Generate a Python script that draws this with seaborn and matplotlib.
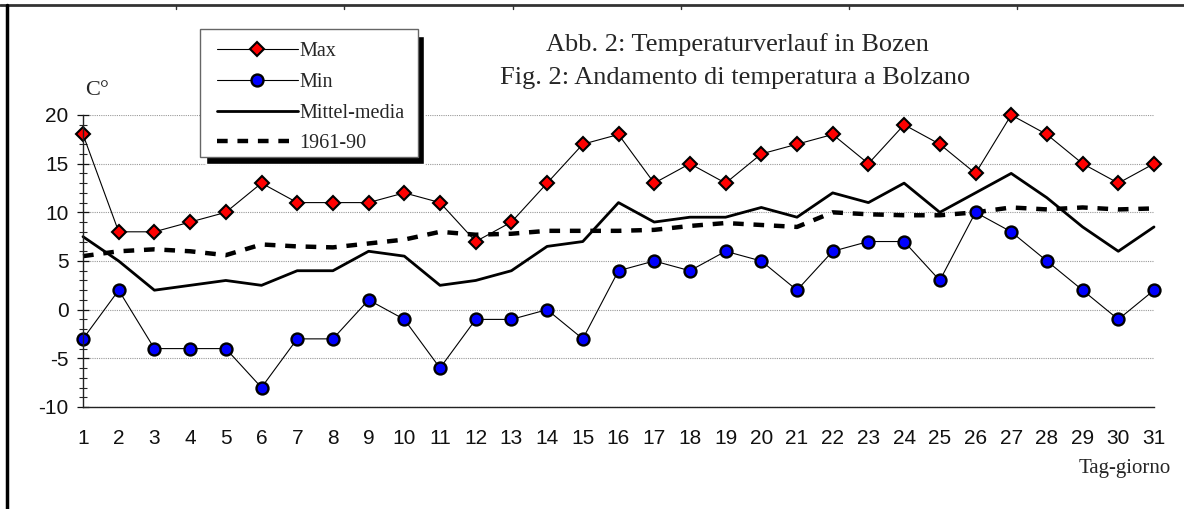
import pandas as pd
import seaborn as sns
import matplotlib.pyplot as plt
from matplotlib.lines import Line2D
from matplotlib.patches import Rectangle
from matplotlib.ticker import MultipleLocator

days = list(range(1, 32))
t_max = [18, 8, 8, 9, 10, 13, 11, 11, 11, 12, 11, 7, 9, 13, 17, 18, 13, 15, 13, 16,
         17, 18, 15, 19, 17, 14, 20, 18, 15, 13, 15]
t_min = [-3, 2, -4, -4, -4, -8, -3, -3, 1, -1, -6, -1, -1, 0, -3, 4, 5, 4, 6, 5,
         2, 6, 7, 7, 3, 10, 8, 5, 2, -1, 2]
t_mean = [7.5, 5, 2, 2.5, 3, 2.5, 4, 4, 6, 5.5, 2.5, 3, 4, 6.5, 7, 11, 9, 9.5, 9.5, 10.5,
          9.5, 12, 11, 13, 10, 12, 14, 11.5, 8.5, 6, 8.5]
t_norm = [5.5, 6, 6.2, 6, 5.6, 6.7, 6.5, 6.4, 6.8, 7.2, 8, 7.7, 7.8, 8.1, 8.1, 8.1, 8.2, 8.6,
          8.9, 8.7, 8.5, 10, 9.8, 9.7, 9.7, 10, 10.5, 10.3, 10.5, 10.3, 10.4]
labels = ["Max", "Min", "Mittel-media", "1961-90"]

df = pd.DataFrame({"day": days, "max": t_max, "min": t_min, "mean": t_mean, "norm": t_norm})

sns.set_style("white")
plt.rcParams["font.family"] = ["Liberation Sans", "DejaVu Sans"]
plt.rcParams["axes.unicode_minus"] = False
serif = ["Liberation Serif", "DejaVu Serif"]

W, H = 1184, 509
fig = plt.figure(figsize=(W / 100, H / 100), dpi=100)
ax = fig.add_axes([83 / W, 1 - 407 / H, (1154 - 83) / W, (407 - 115) / H])

sns.lineplot(data=df, x="day", y="norm", ax=ax, color="black", lw=3.2,
             linestyle=(0, (2.4, 2.2)), label=labels[3], clip_on=False)
sns.lineplot(data=df, x="day", y="mean", ax=ax, color="black", lw=2.0,
             label=labels[2], clip_on=False)
sns.lineplot(data=df, x="day", y="min", ax=ax, color="black", lw=0.8, marker="o",
             markersize=8.6, markerfacecolor="#0000ff", markeredgecolor="black",
             markeredgewidth=1.7, label=labels[1], clip_on=False)
sns.lineplot(data=df, x="day", y="max", ax=ax, color="black", lw=0.8, marker="D",
             markersize=7.2, markerfacecolor="#ff0000", markeredgecolor="black",
             markeredgewidth=1.5, label=labels[0], clip_on=False)

handles, labs = ax.get_legend_handles_labels()
ax.get_legend().remove()
order = [labs.index(l) for l in labels]

ax.set_xlim(1, 31)
ax.set_ylim(-10, 20)
ax.set_xticks(days)
ax.set_yticks(range(-10, 21, 5))
ax.yaxis.set_minor_locator(MultipleLocator(1))
ax.set_xlabel("")
ax.set_ylabel("")
ax.tick_params(axis="x", which="major", direction="inout", length=10, width=0.9,
               pad=11, labelsize=15, colors="#111")
ax.tick_params(axis="y", which="major", direction="inout", length=8.6, width=0.9,
               pad=6, labelsize=15, colors="#111", left=True)
ax.tick_params(axis="y", which="minor", direction="inout", length=6, width=0.8,
               left=True)
for s in ["top", "right"]:
    ax.spines[s].set_visible(False)
for s in ["left", "bottom"]:
    ax.spines[s].set_color("#222")
    ax.spines[s].set_linewidth(1.0)
ax.yaxis.grid(True, linestyle=(0, (1, 1)), color="#999", lw=0.8)
ax.set_axisbelow(True)

# legend box with hard black shadow
fig.add_artist(Rectangle((206 / W, 1 - 164 / H), 218 / W, 128 / H,
                         transform=fig.transFigure, facecolor="black", zorder=3))
fig.add_artist(Rectangle((200 / W, 1 - 157 / H), 218 / W, 128 / H,
                         transform=fig.transFigure, facecolor="white",
                         edgecolor="#666", lw=1.0, zorder=4))
fig.legend([handles[i] for i in order], labels, loc="upper left",
           bbox_to_anchor=(207 / W, 1 - 32 / H), frameon=False, borderpad=0,
           prop={"family": serif, "size": 14.5}, handlelength=4.0,
           handletextpad=0.1, labelspacing=0.58)

fig.text(737 / W, 1 - 45 / H, "Abb. 2: Temperaturverlauf in Bozen", ha="center",
         va="center", family=serif, size=19)
fig.text(735 / W, 1 - 78 / H, "Fig. 2: Andamento di temperatura a Bolzano", ha="center",
         va="center", family=serif, size=19)
fig.text(85 / W, 1 - 90 / H, "C°", ha="left", va="center", family=serif, size=16)
fig.text(1171 / W, 1 - 468 / H, "Tag-giorno", ha="right", va="center", family=serif,
         size=15)

# page frame
fig.add_artist(Line2D([0, 1], [1 - 5 / H] * 2, color="#333", lw=2))
fig.add_artist(Line2D([7 / W] * 2, [0, 1 - 5 / H], color="black", lw=2.5))
for px in [176, 344, 513, 681, 849, 1017]:
    fig.add_artist(Line2D([px / W] * 2, [1 - 5 / H, 1 - 9 / H], color="#333", lw=1))

fig.savefig("out.png", dpi=100)
